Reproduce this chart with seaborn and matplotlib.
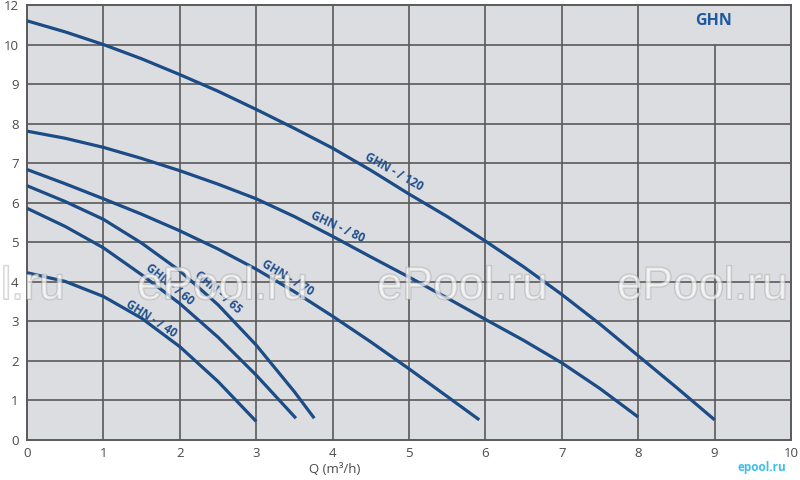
import matplotlib
matplotlib.use("Agg")
import matplotlib.pyplot as plt
import matplotlib.patheffects as pe
import numpy as np
import pandas as pd
import seaborn as sns

# ---------------- data ----------------
q_120 = [0, 0.5, 1, 1.5, 2, 2.5, 3, 3.5, 4, 4.5, 5, 5.5, 6, 6.5, 7, 7.5, 8, 8.5, 9]
h_120 = [10.6, 10.32, 10.0, 9.64, 9.24, 8.82, 8.36, 7.88, 7.38, 6.82, 6.22, 5.65, 5.03, 4.38, 3.68, 2.93, 2.13, 1.33, 0.51]

q_80 = [0, 0.5, 1, 1.5, 2, 2.5, 3, 3.5, 4, 4.5, 5, 5.5, 6, 6.5, 7, 7.5, 8]
h_80 = [7.81, 7.63, 7.40, 7.12, 6.81, 6.47, 6.10, 5.65, 5.15, 4.63, 4.12, 3.59, 3.05, 2.52, 1.95, 1.30, 0.58]

q_70 = [0, 0.5, 1, 1.5, 2, 2.5, 3, 3.5, 4, 4.5, 5, 5.5, 5.92]
h_70 = [6.84, 6.48, 6.10, 5.71, 5.29, 4.83, 4.32, 3.75, 3.13, 2.48, 1.80, 1.10, 0.51]

q_65 = [0, 0.5, 1, 1.5, 2, 2.5, 3, 3.5, 3.76]
h_65 = [6.43, 6.03, 5.58, 4.98, 4.28, 3.42, 2.40, 1.22, 0.55]

q_60 = [0, 0.5, 1, 1.5, 2, 2.5, 3, 3.52]
h_60 = [5.86, 5.40, 4.86, 4.18, 3.45, 2.60, 1.64, 0.55]

q_40 = [0, 0.5, 1, 1.5, 2, 2.5, 3]
h_40 = [4.23, 4.01, 3.63, 3.08, 2.36, 1.48, 0.47]

series_names = ["GHN - / 120", "GHN - / 80", "GHN - / 70", "GHN - / 65", "GHN - / 60", "GHN - / 40"]
series_q = [q_120, q_80, q_70, q_65, q_60, q_40]
series_h = [h_120, h_80, h_70, h_65, h_60, h_40]

x_ticks = [0, 1, 2, 3, 4, 5, 6, 7, 8, 9, 10]
x_tick_labels = ["0", "1", "2", "3", "4", "5", "6", "7", "8", "9", "10"]
y_ticks = [0, 1, 2, 3, 4, 5, 6, 7, 8, 9, 10, 11]
y_tick_labels = ["0", "1", "2", "3", "4", "5", "6", "7", "8", "9", "10", "12"]

x_label = "Q (m³/h)"
title_text = "GHN"
watermark = "ePool.ru"
logo_text = "epool.ru"

# label placement (data coords) and rotation, separate from the data
label_pos = [(4.80, 6.78), (4.06, 5.38), (3.41, 4.11), (2.50, 3.73), (1.87, 3.93), (1.63, 3.07)]
label_rot = [-29.5, -25, -31, -41, -39, -33]

# ---------------- build frame ----------------
frames = []
for name, q, h in zip(series_names, series_q, series_h):
    frames.append(pd.DataFrame({"Q": q, "H": h, "pump": name}))
df = pd.concat(frames, ignore_index=True)

sns.set_style("white")
plt.rcParams["font.family"] = ["Open Sans", "DejaVu Sans"]

line_col = "#1b4c86"
text_col = "#1f4f8e"
grid_col = "#5a5a5a"

fig = plt.figure(figsize=(8, 4.8), dpi=100)
ax = fig.add_axes([27 / 800, 40 / 480, 764 / 800, 435 / 480])
ax.set_facecolor("#dcdde0")

sns.lineplot(data=df, x="Q", y="H", hue="pump", units="pump", estimator=None,
             sort=False, palette=[line_col] * len(series_names), legend=False,
             linewidth=2.3, ax=ax, zorder=3, solid_capstyle="butt")

ax.set_xlim(0, 10)
ax.set_ylim(0, 11)

# grid
for xv in x_ticks[1:-1]:
    ymax = 10 / 11 if xv == 9 else 1
    ax.axvline(xv, ymin=0, ymax=ymax, color=grid_col, lw=1.2, zorder=1)
for yv in y_ticks[1:-1]:
    ax.axhline(yv, color=grid_col, lw=1.2, zorder=1)
for s in ax.spines.values():
    s.set_visible(True)
    s.set_color(grid_col)
    s.set_linewidth(1.4)

ax.set_xticks(x_ticks)
ax.set_xticklabels(x_tick_labels)
ax.set_yticks(y_ticks)
ax.set_yticklabels(y_tick_labels)
ax.tick_params(axis="both", length=0, labelsize=9.5, labelcolor="#4a4a4a")
ax.tick_params(axis="x", pad=5)
ax.tick_params(axis="y", pad=6)
ax.set_ylabel("")
ax.set_xlabel(x_label, fontsize=9.5, color="#4a4a4a")
ax.xaxis.set_label_coords(0.403, -0.052)

# curve labels
for name, (lx, ly), rot in zip(series_names, label_pos, label_rot):
    ax.text(lx, ly, name, rotation=rot, rotation_mode="anchor",
            ha="center", va="center", fontsize=8.5, fontweight="bold",
            color=text_col, zorder=4)

# title box text
ax.text(8.98, 10.6, title_text, ha="center", va="center", fontsize=11.5,
        fontweight="bold", color="#1f5a9e", zorder=4)

# watermarks
for px in [-106, 137, 377, 617]:
    fig.text(px / 800, 1 - 287 / 480, watermark, ha="left", va="center",
             fontsize=33, family="Liberation Sans", color="white", alpha=0.45,
             path_effects=[pe.withStroke(linewidth=1.4, foreground="#a0a0a0")],
             zorder=10)

fig.text(762 / 800, 1 - 467 / 480, logo_text, ha="center", va="center",
         fontsize=8.5, fontweight="bold", color="#3cc0e6")

fig.savefig("out.png", dpi=100)
